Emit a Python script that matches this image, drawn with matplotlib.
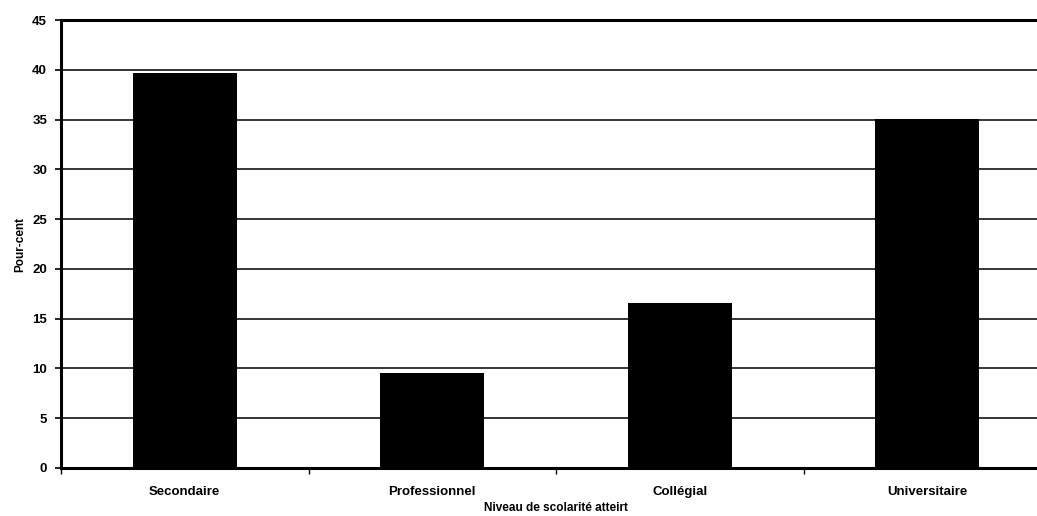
import numpy as np
import matplotlib
matplotlib.use("Agg")
import matplotlib.pyplot as plt

# education level reached, percent of respondents
niveaux = ["Secondaire", "Professionnel", "Collégial", "Universitaire"]
pourcent = [39.7, 9.5, 16.6, 35.1]
yticks = [0, 5, 10, 15, 20, 25, 30, 35, 40, 45]

plt.rcParams.update({"font.family": "Liberation Sans", "font.weight": "bold",
                     "font.size": 9.5})

fig = plt.figure(figsize=(10.37, 5.16), dpi=100)
# plot area runs past the right edge of the page
ax = fig.add_axes([61 / 1037, 48 / 516, (1051 - 61) / 1037, (468 - 20) / 516])

x = np.arange(len(niveaux))
ax.bar(x, pourcent, width=0.42, color="black", zorder=3)

ax.set_xlim(-0.5, 3.5)
ax.set_ylim(0, 45)
ax.set_yticks(yticks)
ax.set_yticklabels([str(v) for v in yticks], fontweight="bold")
ax.yaxis.grid(True, color="black", lw=1.1, zorder=1)
ax.set_axisbelow(True)

ax.set_xticks(x)
ax.set_xticklabels(niveaux, fontweight="bold")
ax.tick_params(axis="x", length=0, pad=13)
ax.set_xticks(np.arange(-0.5, 4, 1), minor=True)
ax.tick_params(axis="x", which="minor", length=4, width=1, direction="out")
ax.tick_params(axis="y", length=4, width=1.2, pad=6)

for side in ["left", "bottom", "top"]:
    ax.spines[side].set_linewidth(2.2)
ax.spines["right"].set_visible(False)

ax.set_xlabel("Niveau de scolarité atteirt", fontsize=8.5, fontweight="bold", labelpad=3)
ax.set_ylabel("Pour-cent", fontsize=8.5, fontweight="bold", labelpad=4)

fig.savefig("out.png", dpi=100)
